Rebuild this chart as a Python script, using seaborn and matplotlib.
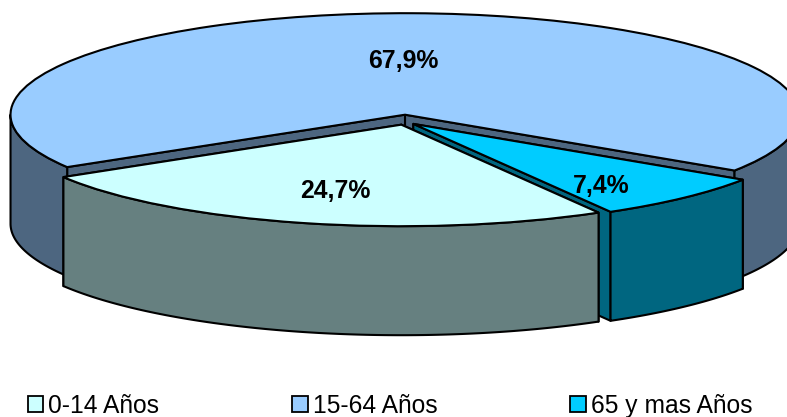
import numpy as np
import matplotlib
matplotlib.use("Agg")
import matplotlib.pyplot as plt
from matplotlib.patches import Patch
import seaborn as sns

categories = ["0-14 Años", "15-64 Años", "65 y mas Años"]
shares = [24.7, 67.9, 7.4]
top_colors = ["#CCFFFF", "#99CCFF", "#00CCFF"]
wall_colors = ["#668080", "#4D6680", "#006680"]
explode = [0.0325, 0.067, 0.0325]
label_px = [(335, 191), (403, 61), (601, 186)]

W, H = 787, 417
CX, CY, RX, RY = 404.5, 121.5, 394.5, 101.5
DEPTH = 109 / RY
draw_order = [1, 2, 0]

sns.set_theme(style="white")
plt.rcParams["font.family"] = ["Liberation Sans", "DejaVu Sans"]

fig = plt.figure(figsize=(W / 100, H / 100), dpi=100)
ax = fig.add_axes([0, 0, 1, 1])
wedges, _ = ax.pie(shares, colors=top_colors, explode=explode, startangle=300,
                   counterclock=False, radius=1,
                   wedgeprops=dict(edgecolor="black", linewidth=1.5))
ax.set_aspect("auto")
ax.set_xlim((0 - CX) / RX, (W - CX) / RX)
ax.set_ylim((CY - H) / RY, CY / RY)
ax.axis("off")


def wall_polys(w):
    """Side faces of one slice, painted from the back to the front."""
    cx, cy = w.center
    polys = []
    # radial cut faces: the one whose rim point lies further back goes first
    for th in sorted((w.theta1, w.theta2), key=lambda a: -np.sin(np.radians(a))):
        t = np.radians(th)
        x, y = cx + w.r * np.cos(t), cy + w.r * np.sin(t)
        polys.append([(cx, cy), (x, y), (x, y - DEPTH), (cx, cy - DEPTH)])
    # outer curved wall: only the part on the near side of the ellipse
    for k in range(-2, 3):
        a = max(w.theta1, 180 + 360 * k)
        b = min(w.theta2, 360 + 360 * k)
        if b > a:
            t = np.radians(np.linspace(a, b, 160))
            xs = cx + w.r * np.cos(t)
            ys = cy + w.r * np.sin(t)
            polys.append(list(zip(xs, ys)) + list(zip(xs[::-1], ys[::-1] - DEPTH)))
    return polys


for z, i in enumerate(draw_order):
    base = 2 + z * 2
    for poly in wall_polys(wedges[i]):
        ax.fill(*zip(*poly), facecolor=wall_colors[i], edgecolor="black",
                linewidth=1.5, joinstyle="round", zorder=base)
    wedges[i].set_zorder(base + 1)

for v, (px, py) in zip(shares, label_px):
    ax.text(px / W, 1 - py / H, f"{v:.1f}%".replace(".", ","), transform=ax.transAxes,
            ha="center", va="center", fontsize=17.8, fontweight="bold",
            color="black", zorder=20)

handles = [Patch(facecolor=c, edgecolor="black", linewidth=1.3) for c in top_colors]
fig.legend(handles, categories, ncols=3, loc="lower left",
           bbox_to_anchor=(28 / W, -1 / H), frameon=False, fontsize=17.7,
           handlelength=0.62, handleheight=0.62, handletextpad=0.2,
           columnspacing=5.42, borderpad=0, borderaxespad=0, labelcolor="black")

fig.savefig("out.png", dpi=100, facecolor="white")
